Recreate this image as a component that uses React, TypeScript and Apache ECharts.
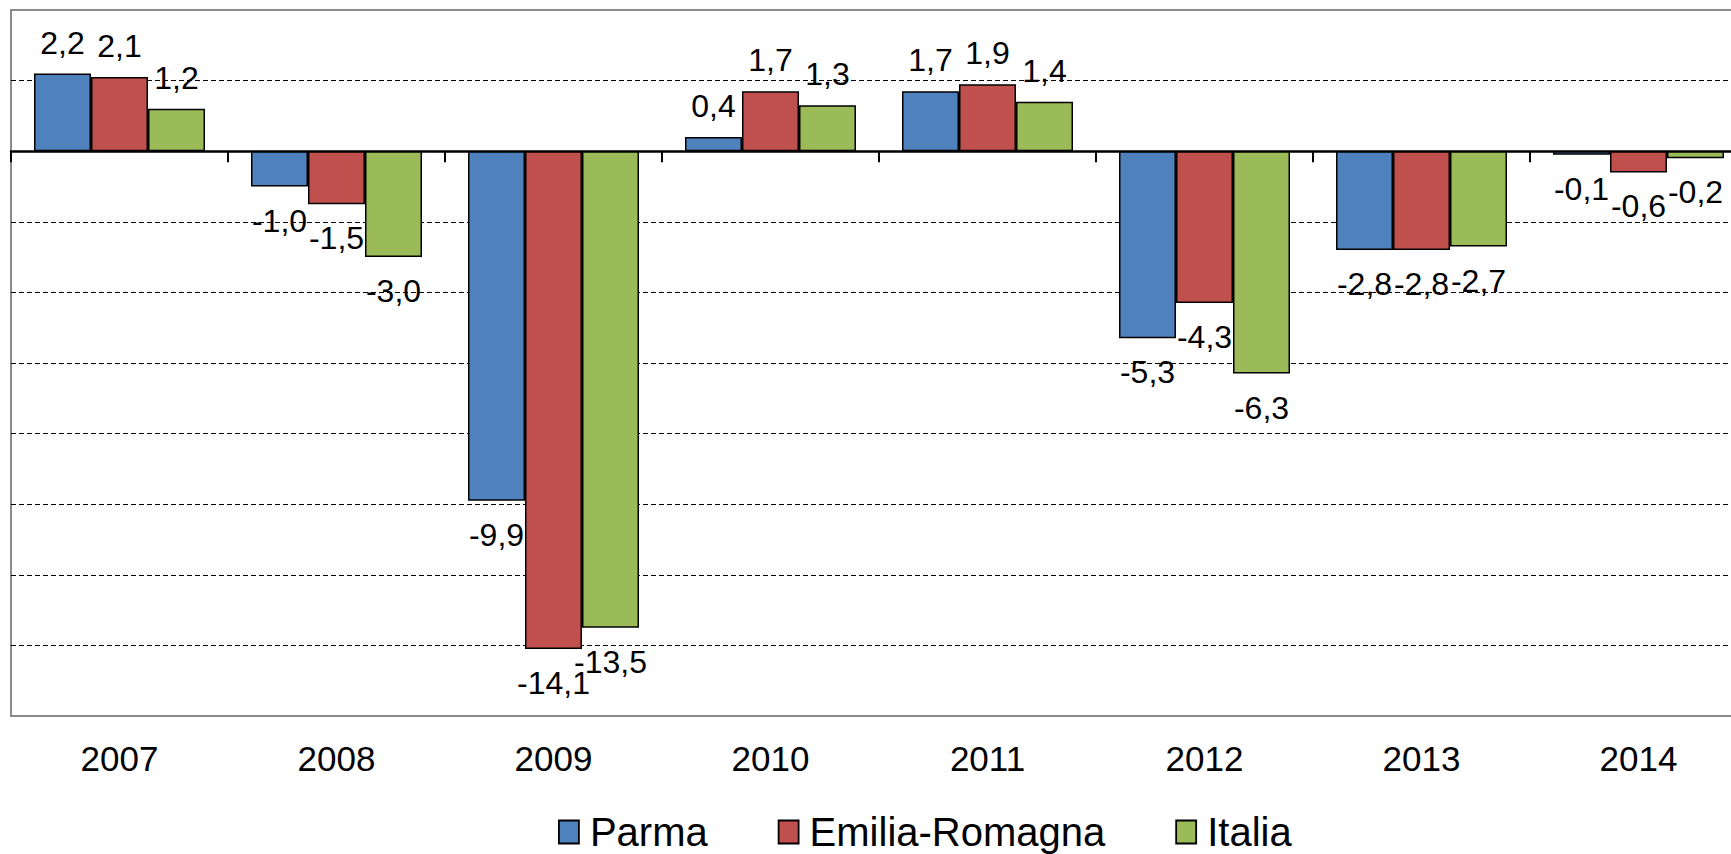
import React, { useEffect, useRef } from "react";
import * as echarts from "echarts";

const categories = ["2007", "2008", "2009", "2010", "2011", "2012", "2013", "2014"];
const parma = [2.2, -1.0, -9.9, 0.4, 1.7, -5.3, -2.8, -0.1];
const emiliaRomagna = [2.1, -1.5, -14.1, 1.7, 1.9, -4.3, -2.8, -0.6];
const italia = [1.2, -3.0, -13.5, 1.3, 1.4, -6.3, -2.7, -0.2];
const seriesNames = ["Parma", "Emilia-Romagna", "Italia"];
const seriesColors = ["#4F81BD", "#C0504D", "#9BBB59"];

const FONT = "'Liberation Sans', Arial, sans-serif";

function toItems(values: number[]) {
  return values.map((v) => ({
    value: v,
    label: {
      position: v >= 0 ? "top" : "bottom",
      distance: v >= 0 ? 15 : 18,
    },
  }));
}

export default function App() {
  const ref = useRef<HTMLDivElement>(null);
  useEffect(() => {
    if (!ref.current) return;
    const chart = echarts.init(ref.current, null, { renderer: "svg" });
    const dataSets = [parma, emiliaRomagna, italia];
    chart.setOption({
      animation: false,
      backgroundColor: "#ffffff",
      grid: {
        left: 11,
        top: 10,
        width: 1736,
        height: 706,
        show: true,
        borderColor: "#8a8a8a",
        borderWidth: 2,
        backgroundColor: "transparent",
        outerBoundsMode: "none",
      },
      legend: {
        left: 553,
        top: 807,
        padding: 5,
        itemWidth: 20,
        itemHeight: 23,
        itemGap: 70,
        icon: "rect",
        textStyle: { fontFamily: FONT, fontSize: 40, color: "#000", padding: [0, 0, 0, 6] },
        itemStyle: { borderColor: "#000", borderWidth: 1.8 },
        data: seriesNames,
      },
      xAxis: [
        {
          type: "category",
          data: categories,
          position: "bottom",
          axisLine: { show: true, onZero: true, lineStyle: { color: "#000", width: 2.5 } },
          axisTick: { show: true, length: 11, lineStyle: { color: "#000", width: 2 } },
          axisLabel: { show: false },
          splitLine: { show: false },
        },
        {
          type: "category",
          data: categories,
          position: "bottom",
          axisLine: { show: false, onZero: false },
          axisTick: { show: false },
          axisLabel: {
            show: true,
            margin: 25,
            fontFamily: FONT,
            fontSize: 35,
            color: "#000",
          },
          splitLine: { show: false },
        },
      ],
      yAxis: {
        type: "value",
        min: -16,
        max: 4,
        interval: 2,
        axisLine: { show: false },
        axisTick: { show: false },
        axisLabel: { show: false },
        splitLine: {
          show: true,
          showMinLine: false,
          showMaxLine: false,
          lineStyle: { color: "#000", width: 1.2, type: [5, 3] },
        },
      },
      series: dataSets.map((d, i) => ({
        name: seriesNames[i],
        type: "bar",
        xAxisIndex: 0,
        barWidth: 57,
        barGap: "0%",
        itemStyle: { color: seriesColors[i], borderColor: "#000", borderWidth: 1.5 },
        label: {
          show: true,
          fontFamily: FONT,
          fontSize: 32,
          color: "#000",
          formatter: (p: any) => Number(p.value).toFixed(1).replace(".", ","),
        },
        data: toItems(d),
      })),
    });
    return () => chart.dispose();
  }, []);
  return (
    <div
      style={{
        position: "fixed",
        left: 0,
        top: 0,
        width: 1731,
        height: 854,
        overflow: "hidden",
        background: "#fff",
      }}
    >
      <div ref={ref} style={{ width: 1760, height: 854 }} />
    </div>
  );
}
